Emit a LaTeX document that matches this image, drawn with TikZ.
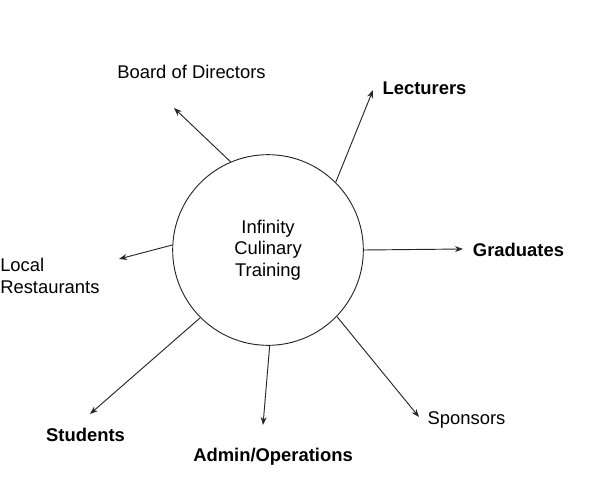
\documentclass[tikz,border=0pt]{standalone}
\usepackage{fontspec}
\setmainfont{Liberation Sans}
\usetikzlibrary{arrows.meta}
\begin{document}
\begin{tikzpicture}[x=0.75pt,y=-0.75pt,
  font=\fontsize{13.8pt}{16.3pt}\selectfont,
  conn/.style={draw=black!85,line width=0.7pt,-{Stealth[length=6pt,width=4.5pt]}},
  lbl/.style={inner sep=0pt,anchor=center},
  blbl/.style={inner sep=0pt,anchor=center,font=\fontsize{13.8pt}{16.3pt}\selectfont\bfseries}]
\useasboundingbox (0,0) rectangle (600,496);
\node[circle,draw=black!85,line width=0.7pt,minimum size=143pt,inner sep=0pt,align=center] (c) at (268,250) {Infinity\\Culinary\\Training};
% labels
\node[lbl] (board) at (191.5,72) {Board of Directors};
\node[blbl] (lect) at (424.5,88) {Lecturers};
\node[lbl,anchor=west,align=left] (local) at (0,276) {Local\\Restaurants};
\node[blbl] (grad) at (518.5,250) {Graduates};
\node[blbl] (stud) at (85.5,435) {Students};
\node[blbl] (admin) at (273,457) {Admin/Operations};
\node[lbl] (spon) at (466.5,420) {Sponsors};
% tips
\coordinate (tboard) at (174,108);
\coordinate (tlect) at (373,90);
\coordinate (tlocal) at (119,259);
\coordinate (tgrad) at (463,249);
\coordinate (tstud) at (90,414);
\coordinate (tadmin) at (263,425);
\coordinate (tspon) at (419,417);
% connectors
\draw[conn] (c.113.7) -- (tboard);
\draw[conn] (c.45.5) -- (tlect);
\draw[conn] (c.177) -- (tlocal);
\draw[conn] (c.0.5) -- (tgrad);
\draw[conn] (c.225) -- (tstud);
\draw[conn] (c.271) -- (tadmin);
\draw[conn] (c.-44.5) -- (tspon);
\end{tikzpicture}
\end{document}
